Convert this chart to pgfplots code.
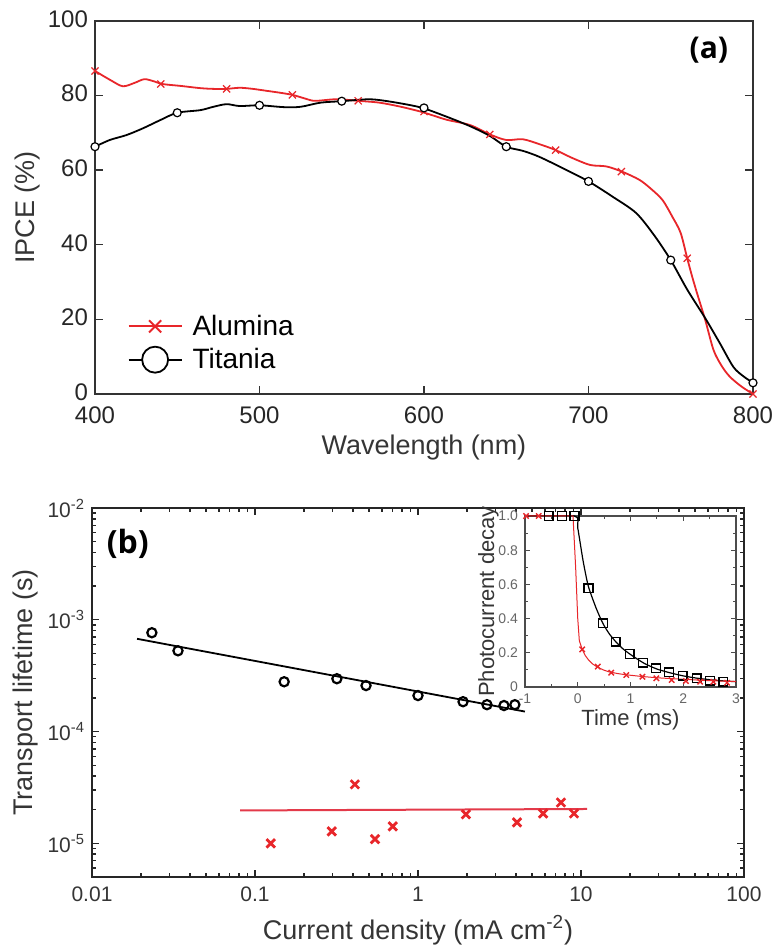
\documentclass[border=0pt]{standalone}
\usepackage{pgfplots}
\pgfplotsset{compat=1.18}
\usepackage{fontspec}
\setmainfont{Liberation Sans}
\newfontfamily\osans{Open Sans}
\definecolor{cred}{HTML}{E8262A}
\definecolor{bred}{HTML}{E33A4A}
\definecolor{lblgray}{HTML}{353535}
\begin{document}
\begin{tikzpicture}
\path[use as bounding box] (0,0) rectangle (387pt,474.5pt);
% ---------------- panel (a)
\begin{axis}[
  at={(47.5pt,277.5pt)}, anchor=south west,
  scale only axis, width=329pt, height=186.5pt,
  xmin=400, xmax=800, ymin=0, ymax=100,
  xtick={400,500,600,700,800}, ytick={0,20,40,60,80,100},
  tick align=inside, tick pos=both, major tick length=4pt,
  axis line style={line width=0.9pt, color=black!80},
  every tick/.style={black!80, line width=0.7pt},
  tick label style={font=\fontsize{12}{14}\selectfont, text=black!85},
  xticklabel style={yshift=-3pt},
  yticklabel style={yshift=1pt},
  /pgf/number format/assume math mode=true,
  xlabel={Wavelength (nm)}, ylabel={IPCE (\%)},
  label style={font=\fontsize{13.5}{16}\selectfont, text=lblgray},
  xlabel style={yshift=1.5pt},
  ylabel style={yshift=-3pt},
  legend cell align=left,
  legend style={draw=none, fill=none, at={(axis description cs:0.04,0.235)}, anchor=north west,
     font=\fontsize{14}{16}\selectfont, row sep=1pt, column sep=3pt},
  legend image code/.code={\draw[mark repeat=2, mark phase=2, #1] plot coordinates {(0pt,0pt) (13.25pt,0pt) (26.5pt,0pt)};},
]
\addplot[cred, line width=0.9pt, smooth, tension=0.5, forget plot] table {
400 86.6
410 84.0
417 82.5
424 83.4
430 84.4
436 83.8
441 83.1
452 82.6
464 82.0
472 81.8
480 81.8
488 82.1
496 81.8
504 81.3
512 80.8
520 80.2
527 79.3
533 78.6
540 78.8
545 79.0
552 78.9
560 78.6
573 78.1
586 77.0
598 75.7
606 74.6
614 73.5
628 72.1
640 69.6
650 68.1
660 68.3
670 67.0
680 65.4
690 63.3
701 61.4
711 61.0
721 59.5
731 57.4
738 55.0
745 52.0
751 47.5
756 43.2
760 36.4
763 31.5
766 27.0
771 19.8
776 11.8
781 7.5
786 4.6
793 2.0
800 0.0
};
\addplot[only marks, cred, mark=x, mark size=2.5pt, line width=0.6pt, forget plot] table {
400 86.6
440 83.1
480 81.8
520 80.2
560 78.6
600 75.7
640 69.6
680 65.4
720 59.6
760 36.4
800 0.0
};
\addplot[black, line width=0.9pt, smooth, tension=0.5, forget plot] table {
400 66.3
409 68.1
419 69.4
429 71.2
440 73.5
450 75.4
464 76.1
472 77.0
480 77.7
488 77.2
500 77.4
515 76.9
525 77.0
537 78.1
550 78.5
565 79.0
573 78.8
586 77.9
599 76.7
614 74.3
628 71.8
640 69.2
650 66.3
660 65.2
670 63.6
685 60.4
700 57.0
715 52.8
729 48.5
740 42.5
750 35.9
760 28.0
771 20.3
780 13.5
788 7.3
794 4.8
800 3.0
};
\addplot[only marks, black, mark=*, mark size=2pt, mark options={fill=white, line width=0.6pt}, forget plot] table {
400 66.3
450 75.4
500 77.4
550 78.5
600 76.7
650 66.3
700 57.0
750 35.9
800 3.0
};
\addlegendimage{cred, line width=0.9pt, mark=x, mark size=4.3pt}
\addlegendentry{Alumina}
\addlegendimage{black, line width=0.9pt, mark=*, mark size=6.5pt, mark options={fill=white}}
\addlegendentry{Titania}
\node[font=\osans\bfseries\fontsize{15}{18}\selectfont] at (axis description cs:0.933,0.922) {(a)};
\end{axis}
% ---------------- panel (b)
\begin{axis}[
  at={(46pt,36pt)}, anchor=south west,
  scale only axis, width=326pt, height=184.5pt,
  xmode=log, ymode=log,
  xmin=0.01, xmax=100, ymin=5e-6, ymax=1e-2,
  xtick={0.01,0.1,1,10,100}, xticklabels={0.01,0.1,1,10,100},
  minor xtick={0.02,0.03,0.04,0.05,0.06,0.07,0.08,0.09,0.2,0.3,0.4,0.5,0.6,0.7,0.8,0.9,2,3,4,5,6,7,8,9,20,30,40,50,60,70,80,90},
  ytick={1e-5,1e-4,1e-3,1e-2},
  yticklabels={10\textsuperscript{-5},10\textsuperscript{-4},10\textsuperscript{-3},10\textsuperscript{-2}},
  minor ytick={6e-6,7e-6,8e-6,9e-6,2e-5,3e-5,4e-5,5e-5,6e-5,7e-5,8e-5,9e-5,2e-4,3e-4,4e-4,5e-4,6e-4,7e-4,8e-4,9e-4,2e-3,3e-3,4e-3,5e-3,6e-3,7e-3,8e-3,9e-3},
  tick align=inside, tick pos=both, major tick length=3.5pt, minor tick length=2pt,
  axis line style={line width=1.1pt, color=black!85},
  every tick/.style={black!85, line width=0.7pt},
  tick label style={font=\fontsize{10.5}{12}\selectfont, text=lblgray},
  xticklabel style={yshift=-1.5pt},
  xlabel={Current density (mA cm\textsuperscript{-2})}, ylabel={Transport lifetime (s)},
  label style={font=\fontsize{13.5}{16}\selectfont, text=lblgray},
  ylabel style={yshift=-2pt},
]
\addplot[black, line width=0.9pt] coordinates {(0.0189,6.76e-4) (4.53,1.51e-4)};
\addplot[only marks, black, mark=o, mark size=2.3pt, line width=1.1pt] table {
0.0233 7.66e-4
0.0337 5.28e-4
0.151 2.79e-4
0.318 2.97e-4
0.48 2.58e-4
1.0 2.1e-4
1.89 1.85e-4
2.65 1.74e-4
3.37 1.71e-4
3.93 1.74e-4
};
\addplot[bred, line width=1pt] coordinates {(0.081,1.97e-5) (10.9,2.03e-5)};
\addplot[only marks, cred, mark=x, mark size=3pt, line width=1.4pt] table {
0.125 1.0e-5
0.296 1.28e-5
0.41 3.37e-5
0.545 1.09e-5
0.70 1.42e-5
1.97 1.82e-5
4.05 1.54e-5
5.85 1.85e-5
7.54 2.32e-5
9.06 1.85e-5
};
\node[font=\osans\bfseries\fontsize{16}{19}\selectfont] at (axis description cs:0.055,0.902) {(b)};
\end{axis}
% ---------------- inset
\begin{axis}[
  at={(262.5pt,131pt)}, anchor=south west,
  scale only axis, width=105.5pt, height=85.5pt,
  xmin=-1, xmax=3, ymin=0, ymax=1,
  xtick={-1,0,1,2,3}, xticklabels={-1,0,1,2,3},
  ytick={0,0.2,0.4,0.6,0.8,1}, yticklabels={0,0.2,0.4,0.6,0.8,1.0},
  minor x tick num=1, minor y tick num=1,
  tick align=inside, tick pos=both, major tick length=2.5pt, minor tick length=1.5pt,
  axis background/.style={fill=white},
  axis line style={line width=0.8pt, color=black!70},
  every tick/.style={black!70, line width=0.5pt},
  tick label style={font=\fontsize{7}{8}\selectfont, text=black!60},
  xlabel={Time (ms)}, ylabel={Photocurrent decay},
  label style={font=\fontsize{11}{12}\selectfont, text=lblgray},
  xlabel style={yshift=4pt},
  ylabel style={yshift=-7pt},
]
\addplot[black, line width=0.6pt, smooth, tension=0.4] table {
-1 1
-0.06 1
0 0.93
0.1 0.74
0.2 0.59
0.35 0.46
0.48 0.37
0.6 0.31
0.72 0.265
0.85 0.225
1.0 0.19
1.25 0.14
1.5 0.105
1.75 0.083
2.0 0.065
2.25 0.052
2.5 0.043
2.75 0.036
3.0 0.031
};
\addplot[cred, line width=0.5pt] table {
-1 1
-0.09 1
-0.04 0.7
0.0 0.40
0.03 0.27
0.084 0.22
0.14 0.185
0.2 0.16
0.28 0.135
0.38 0.115
0.5 0.098
0.6 0.088
0.75 0.079
0.9 0.072
1.2 0.062
1.5 0.054
2 0.045
2.5 0.037
3 0.032
};
\addplot[only marks, black, mark=square, mark size=2.2pt, line width=0.7pt] table {
-0.55 1
-0.3 1
-0.06 1
0.204 0.577
0.476 0.372
0.718 0.265
0.985 0.193
1.238 0.142
1.48 0.109
1.733 0.086
1.99 0.066
2.255 0.051
2.51 0.037
2.76 0.031
};
\addplot[only marks, cred, mark=x, mark size=1.9pt, line width=0.7pt] table {
-0.98 1
-0.74 1
0.084 0.22
0.38 0.119
0.635 0.084
0.92 0.070
1.226 0.060
1.49 0.051
1.78 0.041
2.05 0.035
2.32 0.031
2.57 0.031
2.83 0.025
};
\end{axis}
\end{tikzpicture}
\end{document}
